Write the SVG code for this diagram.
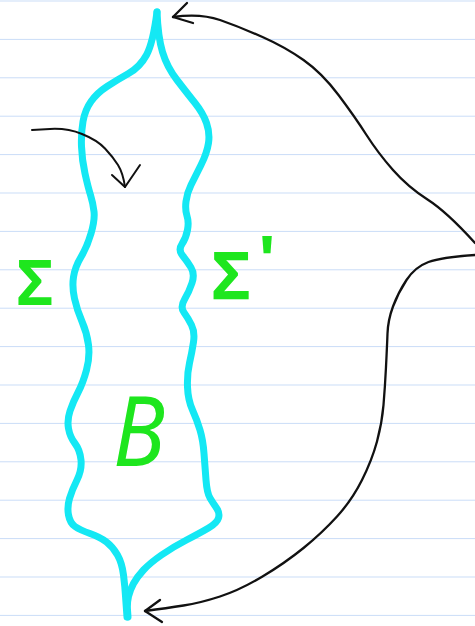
<svg xmlns="http://www.w3.org/2000/svg" width="475" height="626" viewBox="0 0 475 626">
<defs>
<pattern id="ruled" x="0" y="0.5" width="475" height="38.4" patternUnits="userSpaceOnUse">
<rect x="0" y="-1" width="475" height="2" fill="#c9dcf7"/>
</pattern>
<style>
.cyan{fill:none;stroke:#14e8f4;stroke-width:7;stroke-linecap:round;stroke-linejoin:round}
.ink{fill:none;stroke:#111;stroke-width:2.3;stroke-linecap:round;stroke-linejoin:round}
.lbl{fill:#1ee61e;font-family:"Noto Sans",sans-serif;font-weight:bold}
</style>
</defs>
<rect width="475" height="626" fill="#ffffff"/>
<rect width="475" height="626" fill="url(#ruled)"/>
<g id="region">
<path class="cyan" d="M157,12 Q158,37 162.5,52 Q167,67 177,80 Q187,93 195,103 Q203,113 206.5,123 Q210,133 208.5,143 Q207,153 201,165 Q195,177 191,185 Q187,193 186,201.5 Q185,210 187,216 Q189,222 187.5,230 Q186,238 182,244 Q178,250 182.5,255.5 Q187,261 191,267.5 Q195,274 192,283 Q189,292 184.5,299.5 Q180,307 184,312.5 Q188,318 191.5,325 Q195,332 193.5,342 Q192,352 189.5,363 Q187,374 187.5,387 Q188,400 192.5,410 Q197,420 200,430 Q203,440 204,453.5 Q205,467 206,480 Q207,493 210,498 Q213,503 216.5,508 Q220,513 218.5,518 Q217,523 208.5,528 Q200,533 186.5,540 Q173,547 161.5,555 Q150,563 143.5,570 Q137,577 133.5,583.5 Q130,590 128.5,596.5 Q127,603 127.5,610 L128,617"/>
<path class="cyan" d="M157,12 Q153,43 146.5,55 Q140,67 128.5,73.5 Q117,80 107,86.5 Q97,93 91,101.5 Q85,110 83,121.5 Q81,133 81.5,146.5 Q82,160 85,173.5 Q88,187 90.5,195 Q93,203 94,211.5 Q95,220 91,233.5 Q87,247 81,257 Q75,267 73.5,277 Q72,287 74.5,298.5 Q77,310 82,321.5 Q87,333 88.5,345 Q90,357 86.5,370 Q83,383 78,392.5 Q73,402 70,411 Q67,420 68.5,428.5 Q70,437 75,443.5 Q80,450 81,460 Q82,470 77,480 Q72,490 69.5,498.5 Q67,507 68.5,515 Q70,523 75,526.5 Q80,530 90,533.5 Q100,537 106.5,542 Q113,547 117.5,555 Q122,563 123.5,575 Q125,587 125.5,596 L127,617"/>
</g>
<g id="connectors">
<path class="ink" d="M475,243 Q447,212 427.5,199.5 Q408,187 393,170 Q378,153 366.5,135 Q355,117 338.5,95 Q322,73 303.5,60 Q285,47 262.5,37 Q240,27 220,20 Q200,13 173,17"/>
<path class="ink" d="M187,3 L173,17 L193,23"/>
<path class="ink" d="M475,255 Q442,257 428.5,262 Q415,267 406.5,280 Q398,293 393,306.5 Q388,320 387.5,333.5 Q387,347 386,367 Q385,387 383.5,405 Q382,423 377,441.5 Q372,460 362,480 Q352,500 337,516.5 Q322,533 303.5,548 Q285,563 262.5,576.5 Q240,590 220,596.5 Q200,603 183.5,605.5 Q167,608 145,611"/>
<path class="ink" d="M160,600 L145,611 L162,622"/>
<path class="ink" style="stroke-width:2" d="M32,130 L50,129 Q67,128 82,134 Q97,140 105,148.5 Q113,157 118,165 Q123,173 125,187"/>
<path class="ink" style="stroke-width:2" d="M112,175 L125,187 L140,165"/>
</g>
<g id="sigma">
<text class="lbl" x="17" y="305" font-size="62">Σ</text>
</g>
<g id="sigma-prime">
<text class="lbl" x="212" y="300" font-size="66">Σ<tspan dx="8" dy="-16">'</tspan></text>
</g>
<g id="B">
<text class="lbl" x="113" y="466" font-size="96" style="font-weight:normal;font-style:italic" textLength="52" lengthAdjust="spacingAndGlyphs">B</text>
</g>
</svg>
